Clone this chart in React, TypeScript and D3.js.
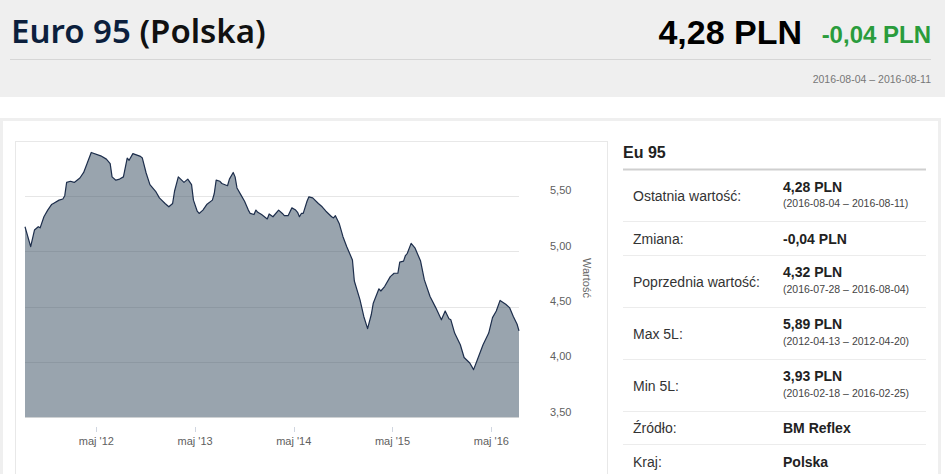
import React, { useEffect, useRef } from 'react';
import * as d3 from 'd3';

// weekly Euro 95 prices (PLN), week index counted from 2011-08-11
const weeks = [
  0, 3, 5, 7, 8, 10, 12, 14, 15, 18, 20, 21, 22, 24, 26, 29, 31, 33, 35, 40,
  43, 45, 46, 48, 50, 52, 54, 55, 57, 61, 62, 64, 66, 69, 71, 74, 76, 78, 79, 81,
  84, 86, 88, 89, 91, 92, 94, 96, 99, 100, 101, 103, 104, 107, 108, 110, 111, 112, 114, 116,
  118, 119, 121, 122, 123, 125, 128, 129, 131, 134, 136, 137, 139, 141, 143, 144, 145, 146, 147, 149,
  150, 152, 155, 157, 159, 162, 163, 164, 166, 168, 170, 173, 174, 177, 179, 181, 183, 184, 187, 188,
  190, 193, 195, 197, 198, 200, 201, 202, 204, 206, 209, 211, 214, 217, 220, 222, 224, 225, 227, 230,
  232, 235, 237, 239, 242, 245, 247, 249, 251, 254, 256, 258, 260, 261,
];
const prices = [
  5.22, 5.04, 5.19, 5.22, 5.21, 5.31, 5.37, 5.42, 5.43, 5.46, 5.47, 5.50, 5.62, 5.63, 5.62, 5.66, 5.71, 5.80, 5.89, 5.86,
  5.83, 5.79, 5.67, 5.64, 5.65, 5.67, 5.84, 5.82, 5.88, 5.855, 5.84, 5.705, 5.60, 5.54, 5.48, 5.43, 5.40, 5.43, 5.54, 5.67,
  5.62, 5.65, 5.60, 5.46, 5.36, 5.34, 5.37, 5.42, 5.46, 5.52, 5.64, 5.63, 5.61, 5.59, 5.65, 5.71, 5.67, 5.57, 5.51, 5.45,
  5.37, 5.34, 5.33, 5.37, 5.35, 5.33, 5.29, 5.335, 5.31, 5.37, 5.34, 5.32, 5.32, 5.39, 5.37, 5.35, 5.31, 5.34, 5.34, 5.45,
  5.49, 5.48, 5.43, 5.40, 5.36, 5.31, 5.30, 5.32, 5.25, 5.13, 5.04, 4.92, 4.73, 4.56, 4.41, 4.30, 4.43, 4.53, 4.66, 4.64,
  4.68, 4.77, 4.80, 4.80, 4.90, 4.91, 4.96, 4.98, 5.07, 5.03, 4.91, 4.74, 4.59, 4.49, 4.38, 4.46, 4.39, 4.38, 4.26, 4.155,
  4.04, 3.99, 3.93, 4.02, 4.155, 4.26, 4.40, 4.46, 4.555, 4.52, 4.49, 4.41, 4.34, 4.28,
];
const yTicks = [3.5, 4.0, 4.5, 5.0, 5.5];
const xTickYears = [2012, 2013, 2014, 2015, 2016];

// side table
const rowLabels = ['Ostatnia wartość:', 'Zmiana:', 'Poprzednia wartość:', 'Max 5L:', 'Min 5L:', 'Źródło:', 'Kraj:'];
const rowValues = ['4,28 PLN', '-0,04 PLN', '4,32 PLN', '5,89 PLN', '3,93 PLN', 'BM Reflex', 'Polska'];
const rowDates = [
  '(2016-08-04 – 2016-08-11)', '', '(2016-07-28 – 2016-08-04)',
  '(2012-04-13 – 2012-04-20)', '(2016-02-18 – 2016-02-25)', '', '',
];

const plLocale = d3.timeFormatLocale({
  dateTime: '%A, %e %B %Y, %X',
  date: '%d.%m.%Y',
  time: '%H:%M:%S',
  periods: ['AM', 'PM'],
  days: ['niedziela', 'poniedziałek', 'wtorek', 'środa', 'czwartek', 'piątek', 'sobota'],
  shortDays: ['nie', 'pon', 'wto', 'śro', 'czw', 'pią', 'sob'],
  months: ['styczeń', 'luty', 'marzec', 'kwiecień', 'maj', 'czerwiec', 'lipiec', 'sierpień', 'wrzesień', 'październik', 'listopad', 'grudzień'],
  shortMonths: ['sty', 'lut', 'mar', 'kwi', 'maj', 'cze', 'lip', 'sie', 'wrz', 'paź', 'lis', 'gru'],
});
const numLocale = d3.formatLocale({ decimal: ',', thousands: ' ', grouping: [3], currency: ['', ' zł'] });

const W = 945;
const H = 474;

const App: React.FC = () => {
  const svgRef = useRef<SVGSVGElement>(null);

  useEffect(() => {
    if (!svgRef.current) return;
    const svg = d3.select(svgRef.current);
    svg.selectAll('*').remove();

    // page background
    svg.append('rect').attr('width', W).attr('height', H).attr('fill', '#fff');
    svg.append('rect').attr('width', W).attr('height', 97).attr('fill', '#efefef');

    // header
    const title = svg.append('text')
      .attr('x', 11).attr('y', 43)
      .attr('font-family', '"Noto Sans", sans-serif')
      .attr('font-size', 33).attr('font-weight', 600);
    title.append('tspan').attr('fill', '#0c1f3d').text('Euro 95 ');
    title.append('tspan').attr('fill', '#111').text('(Polska)');

    svg.append('text')
      .attr('x', 931).attr('y', 43)
      .attr('text-anchor', 'end')
      .attr('font-family', '"Liberation Sans", Arial, sans-serif')
      .attr('font-size', 24).attr('font-weight', 'bold')
      .attr('fill', '#2a9c3c')
      .text('-0,04 PLN');
    svg.append('text')
      .attr('x', 802).attr('y', 44)
      .attr('text-anchor', 'end')
      .attr('font-family', '"Liberation Sans", Arial, sans-serif')
      .attr('font-size', 34).attr('font-weight', 'bold')
      .attr('fill', '#000')
      .text('4,28 PLN');

    svg.append('line')
      .attr('x1', 10).attr('x2', 931).attr('y1', 59.5).attr('y2', 59.5)
      .attr('stroke', '#d6d6d6');

    svg.append('text')
      .attr('x', 931).attr('y', 83)
      .attr('text-anchor', 'end')
      .attr('font-family', '"Liberation Sans", Arial, sans-serif')
      .attr('font-size', 10.5)
      .attr('fill', '#777')
      .text('2016-08-04 – 2016-08-11');

    // outer panel and chart box
    svg.append('rect')
      .attr('x', 1.5).attr('y', 119.5).attr('width', 938).attr('height', 400)
      .attr('fill', '#fff').attr('stroke', '#efefef').attr('stroke-width', 3);
    svg.append('rect')
      .attr('x', 15.5).attr('y', 141.5).attr('width', 592).attr('height', 400)
      .attr('fill', '#fff').attr('stroke', '#e8e8e8');

    // chart
    const start = new Date(2011, 7, 11);
    const end = d3.timeDay.offset(start, 1827);
    const dates = weeks.map(w => d3.timeDay.offset(start, w * 7));
    const data = dates.map((d, i) => ({ date: d, value: prices[i] }));

    const x = d3.scaleTime().domain([start, end]).range([25, 519]);
    const y = d3.scaleLinear().domain([3.5, 6]).range([417.3, 140.3]);

    svg.append('g')
      .selectAll('line')
      .data(yTicks)
      .join('line')
      .attr('x1', 25).attr('x2', 519)
      .attr('y1', d => Math.round(y(d)) + 0.5).attr('y2', d => Math.round(y(d)) + 0.5)
      .attr('stroke', '#e6e6e6');

    const area = d3.area<{ date: Date; value: number }>()
      .x(d => x(d.date))
      .y0(y(3.5))
      .y1(d => y(d.value));
    const line = d3.line<{ date: Date; value: number }>()
      .x(d => x(d.date))
      .y(d => y(d.value));

    svg.append('path')
      .datum(data)
      .attr('fill', '#34495e')
      .attr('fill-opacity', 0.5)
      .attr('d', area);
    svg.append('path')
      .datum(data)
      .attr('fill', 'none')
      .attr('stroke', '#1d2e4c')
      .attr('stroke-width', 1.2)
      .attr('stroke-linejoin', 'round')
      .attr('d', line);

    // y labels (right side)
    const fmtY = numLocale.format('.2f');
    svg.append('g')
      .selectAll('text')
      .data(yTicks)
      .join('text')
      .attr('x', 550)
      .attr('y', d => y(d) - 1.5)
      .attr('font-family', '"Liberation Sans", Arial, sans-serif')
      .attr('font-size', 11)
      .attr('fill', '#606060')
      .text(d => fmtY(d));

    svg.append('text')
      .attr('transform', 'translate(583,278) rotate(90)')
      .attr('text-anchor', 'middle')
      .attr('font-family', '"Liberation Sans", Arial, sans-serif')
      .attr('font-size', 11)
      .attr('fill', '#666')
      .text('Wartość');

    // x ticks
    const xTicks = xTickYears.map(yr => new Date(yr, 4, 1));
    const fmtX = plLocale.format("%b '%y");
    const xg = svg.append('g');
    xg.selectAll('line')
      .data(xTicks)
      .join('line')
      .attr('x1', d => Math.round(x(d)) + 0.5).attr('x2', d => Math.round(x(d)) + 0.5)
      .attr('y1', 427).attr('y2', 432)
      .attr('stroke', '#d0d6e0');
    xg.selectAll('text')
      .data(xTicks)
      .join('text')
      .attr('x', d => x(d))
      .attr('y', 444.5)
      .attr('text-anchor', 'middle')
      .attr('font-family', '"Liberation Sans", Arial, sans-serif')
      .attr('font-size', 11)
      .attr('fill', '#606060')
      .text(d => fmtX(d));

    // side table
    svg.append('text')
      .attr('x', 623).attr('y', 158)
      .attr('font-family', '"Liberation Sans", Arial, sans-serif')
      .attr('font-size', 16).attr('font-weight', 'bold')
      .attr('fill', '#222')
      .text('Eu 95');
    svg.append('line')
      .attr('x1', 623).attr('x2', 926).attr('y1', 169.5).attr('y2', 169.5)
      .attr('stroke', '#cfcfcf').attr('stroke-width', 2);

    let top = 169;
    rowLabels.forEach((label, i) => {
      const twoLine = rowDates[i] !== '';
      const g = svg.append('g').attr('font-family', '"Liberation Sans", Arial, sans-serif');
      g.append('text')
        .attr('x', 633).attr('y', top + (twoLine ? 32 : 22.5))
        .attr('font-size', 14).attr('fill', '#333')
        .text(label);
      g.append('text')
        .attr('x', 783).attr('y', top + 22.5)
        .attr('font-size', 14).attr('font-weight', 'bold').attr('fill', '#222')
        .text(rowValues[i]);
      if (twoLine) {
        g.append('text')
          .attr('x', 783).attr('y', top + 38)
          .attr('font-size', 10.5).attr('fill', '#444')
          .text(rowDates[i]);
      }
      top += twoLine ? 52 : 33.5;
      if (i < rowLabels.length - 1) {
        svg.append('line')
          .attr('x1', 623).attr('x2', 926)
          .attr('y1', Math.round(top) + 0.5).attr('y2', Math.round(top) + 0.5)
          .attr('stroke', '#ececec');
      }
    });
  }, []);

  return (
    <svg
      ref={svgRef}
      width={W}
      height={H}
      style={{ position: 'absolute', left: 0, top: 0 }}
    ></svg>
  );
};

export default App;
